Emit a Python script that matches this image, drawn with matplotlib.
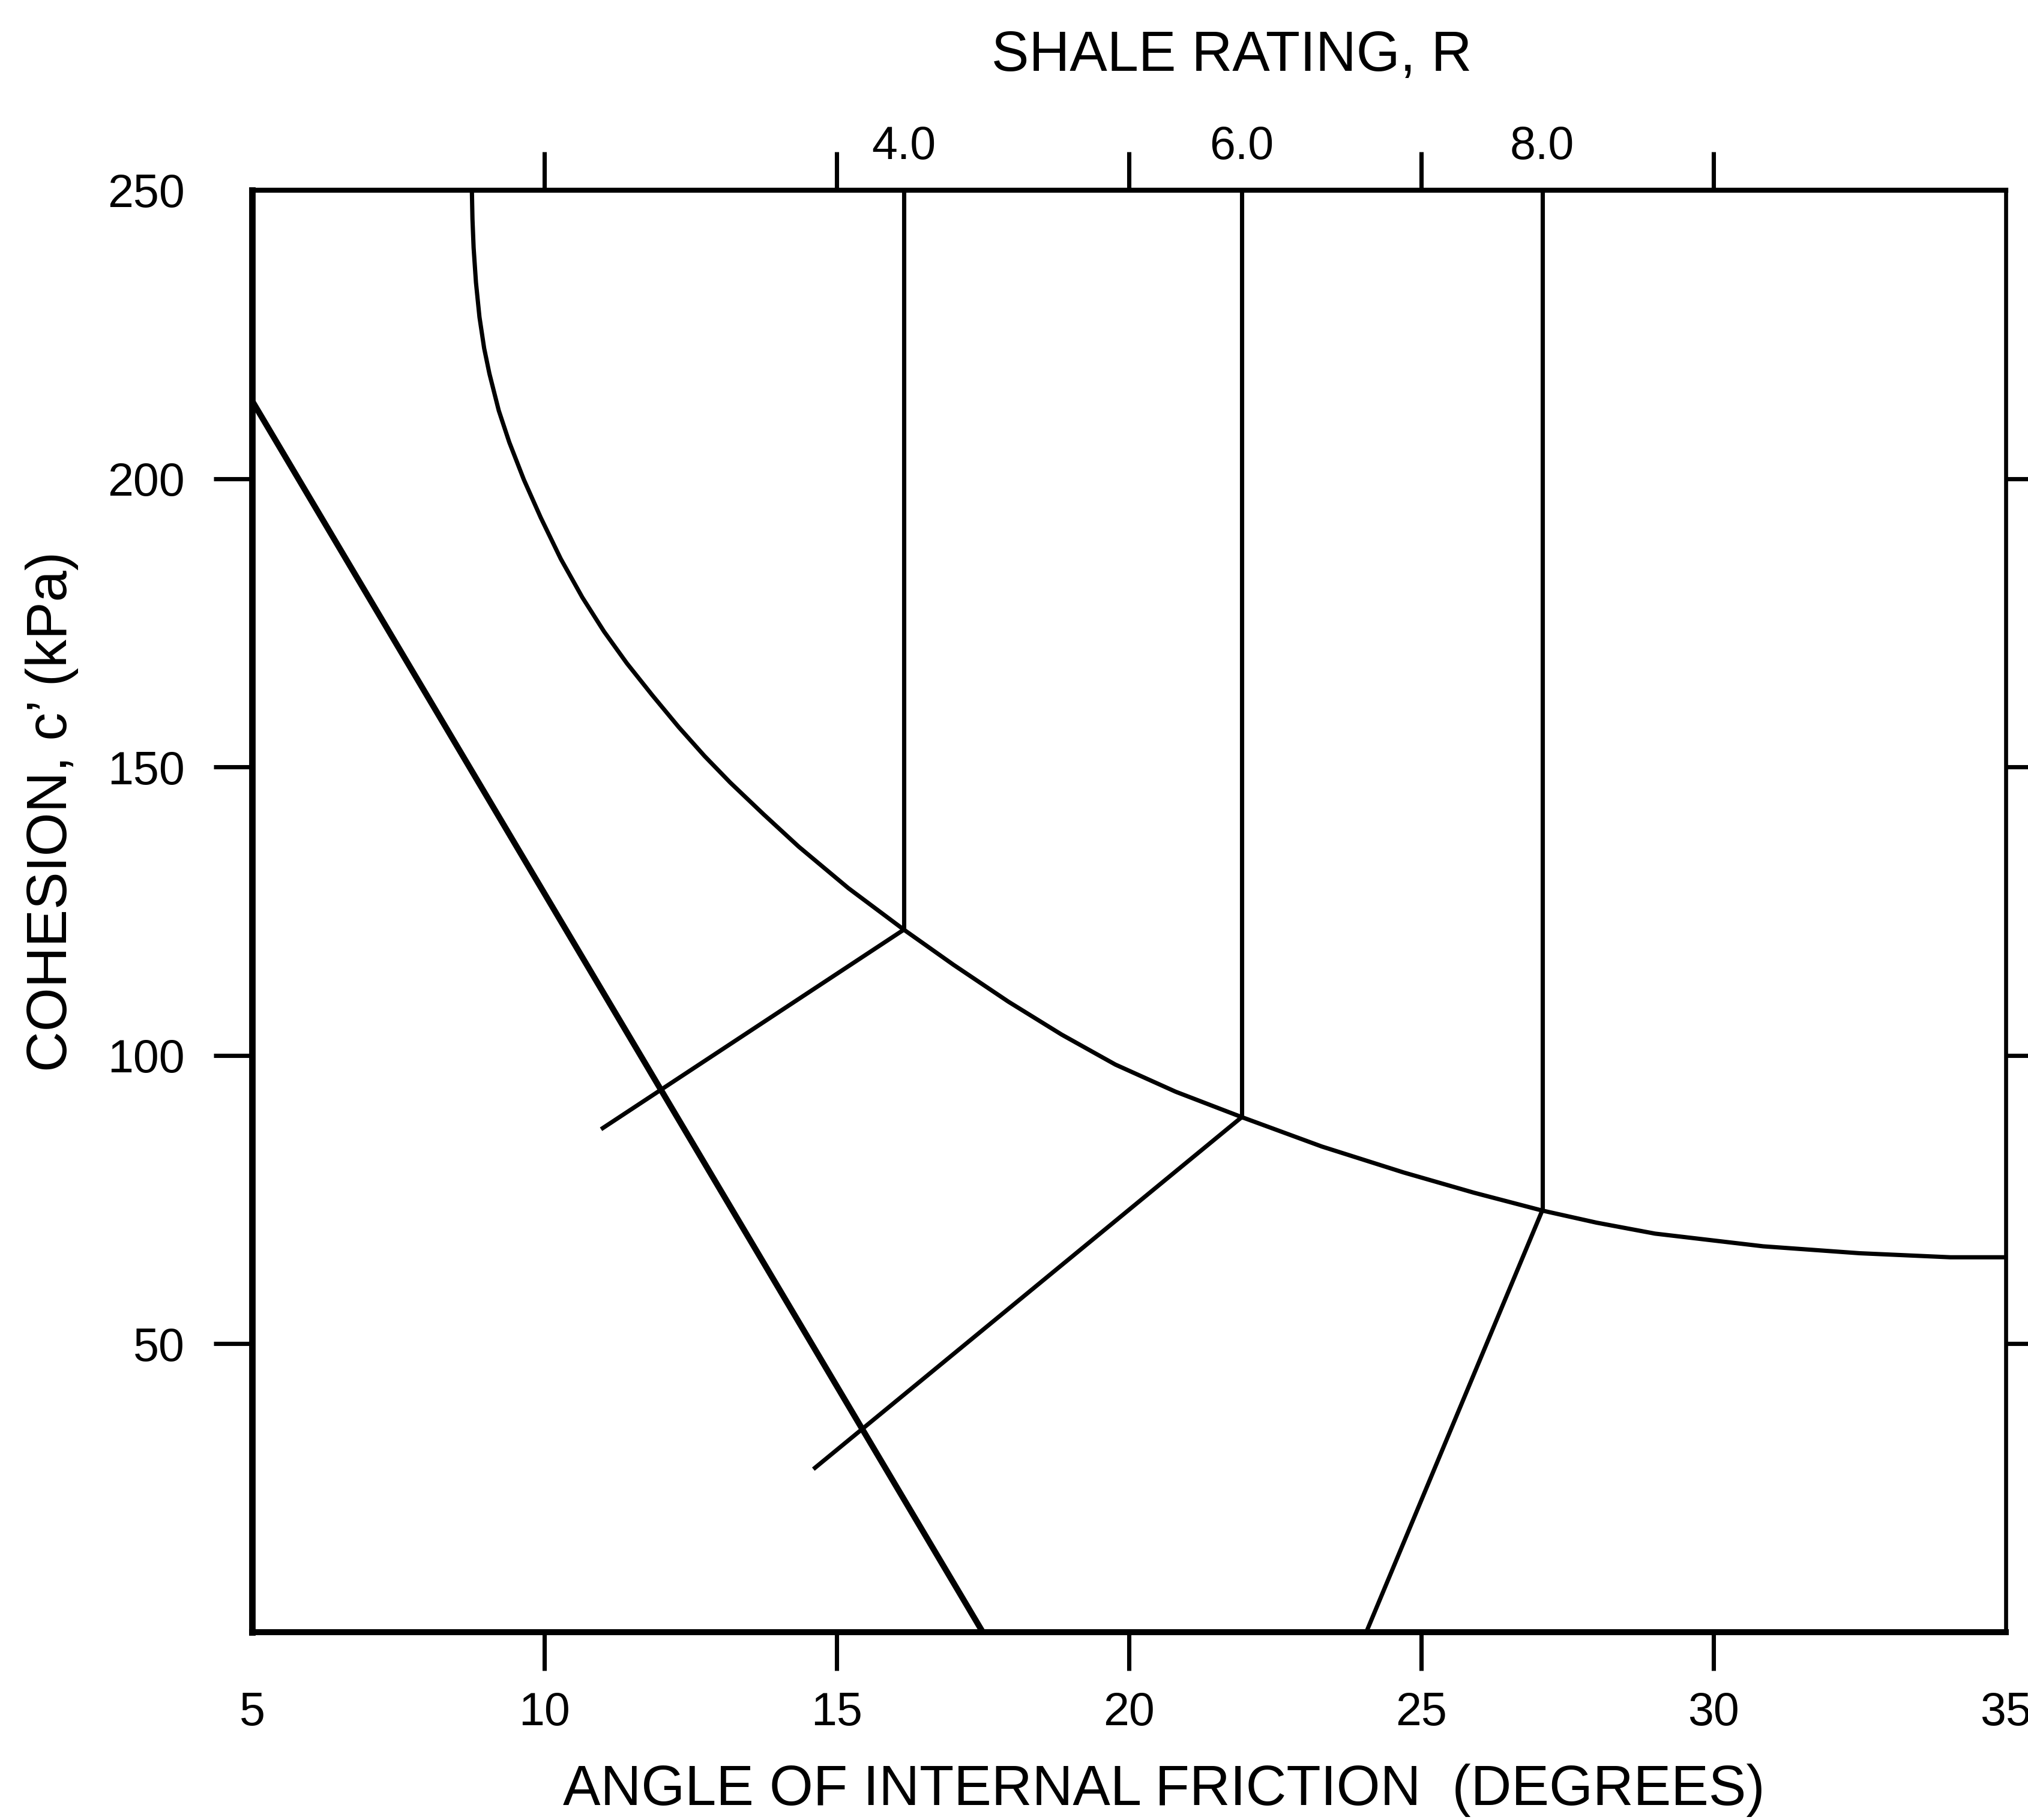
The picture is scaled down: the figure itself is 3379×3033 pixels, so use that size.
import matplotlib
matplotlib.use("Agg")
import matplotlib.pyplot as plt

plt.rcParams["font.family"] = ["Liberation Sans", "DejaVu Sans"]

# envelope curve: angle of friction (deg) vs cohesion (kPa)
curve_phi = [8.76, 8.77, 8.79, 8.83, 8.89, 8.97, 9.06, 9.22, 9.40, 9.65,
             9.94, 10.28, 10.65, 11.02, 11.41, 11.85, 12.30, 12.74, 13.18, 13.75,
             14.35, 15.20, 16.15, 17.00, 17.94, 18.85, 19.77, 20.80, 21.93, 23.30,
             24.70, 25.90, 27.07, 28.00, 29.00, 30.85, 32.50, 34.05, 35.00]
curve_c = [250.0, 245.0, 240.0, 234.0, 228.0, 222.6, 218.2, 211.8, 206.3, 199.8,
           193.2, 186.1, 179.4, 173.5, 168.0, 162.4, 156.9, 151.9, 147.3, 141.8,
           136.2, 129.0, 121.8, 115.7, 109.3, 103.6, 98.4, 93.7, 89.3, 84.2,
           79.7, 76.2, 73.1, 71.0, 69.1, 66.9, 65.7, 65.0, 65.0]

# heavy straight boundary line
heavy_phi = [5.0, 17.5]
heavy_c = [213.5, 0.0]

# shale rating lines (vertical above the curve, slanted below it)
rating_labels = ["4.0", "6.0", "8.0"]
rating_phi = [16.15, 21.93, 27.07]
rating_c = [121.8, 89.3, 73.1]
rating_end_phi = [11.0, 14.63, 24.06]
rating_end_c = [87.4, 28.5, 0.0]

x_ticks = [10, 15, 20, 25, 30]
x_edge = [5, 35]
y_ticks = [50, 100, 150, 200]
y_edge = [250]

W, H, DPI = 3379, 3033, 300
fig = plt.figure(figsize=(W / DPI, H / DPI), dpi=DPI)
ax = fig.add_axes([420 / W, 1 - 2720 / H, 2922 / W, 2403 / H])

thin = 1.7
ax.plot(curve_phi, curve_c, color="black", lw=thin, solid_joinstyle="round")
ax.plot(heavy_phi, heavy_c, color="black", lw=2.4)
for i in range(len(rating_phi)):
    ax.plot([rating_phi[i], rating_phi[i]], [rating_c[i], 250], color="black", lw=thin)
    ax.plot([rating_end_phi[i], rating_phi[i]], [rating_end_c[i], rating_c[i]],
            color="black", lw=thin)

ax.set_xlim(5, 35)
ax.set_ylim(0, 250)

tick_len = 15.4
ax.set_xticks(x_ticks)
ax.set_xticklabels([str(v) for v in x_ticks])
ax.set_xticks(x_edge, minor=True)
ax.set_xticklabels([str(v) for v in x_edge], minor=True)
ax.set_yticks(y_ticks)
ax.set_yticklabels([str(v) for v in y_ticks])
ax.set_yticks(y_edge, minor=True)
ax.set_yticklabels([str(v) for v in y_edge], minor=True)

ax.tick_params(axis="x", which="major", direction="out", length=tick_len, width=thin,
               pad=8, labelsize=18.5, top=False)
ax.tick_params(axis="x", which="minor", length=0, pad=8 + tick_len,
               labelsize=18.5, top=False)
ax.tick_params(axis="y", which="major", direction="out", length=tick_len, width=thin,
               pad=11.5, labelsize=18.5, right=True)
ax.tick_params(axis="y", which="minor", length=0, pad=11.5 + tick_len,
               labelsize=18.5, right=False)

ax.spines["top"].set_linewidth(2.0)
ax.spines["left"].set_linewidth(2.6)
ax.spines["bottom"].set_linewidth(2.4)
ax.spines["right"].set_linewidth(1.6)

# top axis: shale rating
ax2 = ax.twiny()
ax2.set_xlim(5, 35)
ax2.set_xticks(x_ticks)
ax2.set_xticklabels([])
ax2.set_xticks(rating_phi, minor=True)
ax2.set_xticklabels(rating_labels, minor=True)
ax2.tick_params(which="major", direction="out", length=tick_len, width=thin)
ax2.tick_params(which="minor", length=0, pad=8.6, labelsize=18.5)
for s in ax2.spines.values():
    s.set_visible(False)

fig.text(2052 / W, 1 - 118 / H, "SHALE RATING, R", ha="center", va="baseline",
         fontsize=22.5)
fig.text(1939 / W, 1 - 3008 / H, "ANGLE OF INTERNAL FRICTION  (DEGREES)",
         ha="center", va="baseline", fontsize=22.5)
fig.text(87 / W, 1 - 1352 / H, "COHESION, c\u2019 (kPa)", rotation=90,
         ha="center", va="center", fontsize=22.5)

fig.savefig("out.png", dpi=DPI, facecolor="white")
